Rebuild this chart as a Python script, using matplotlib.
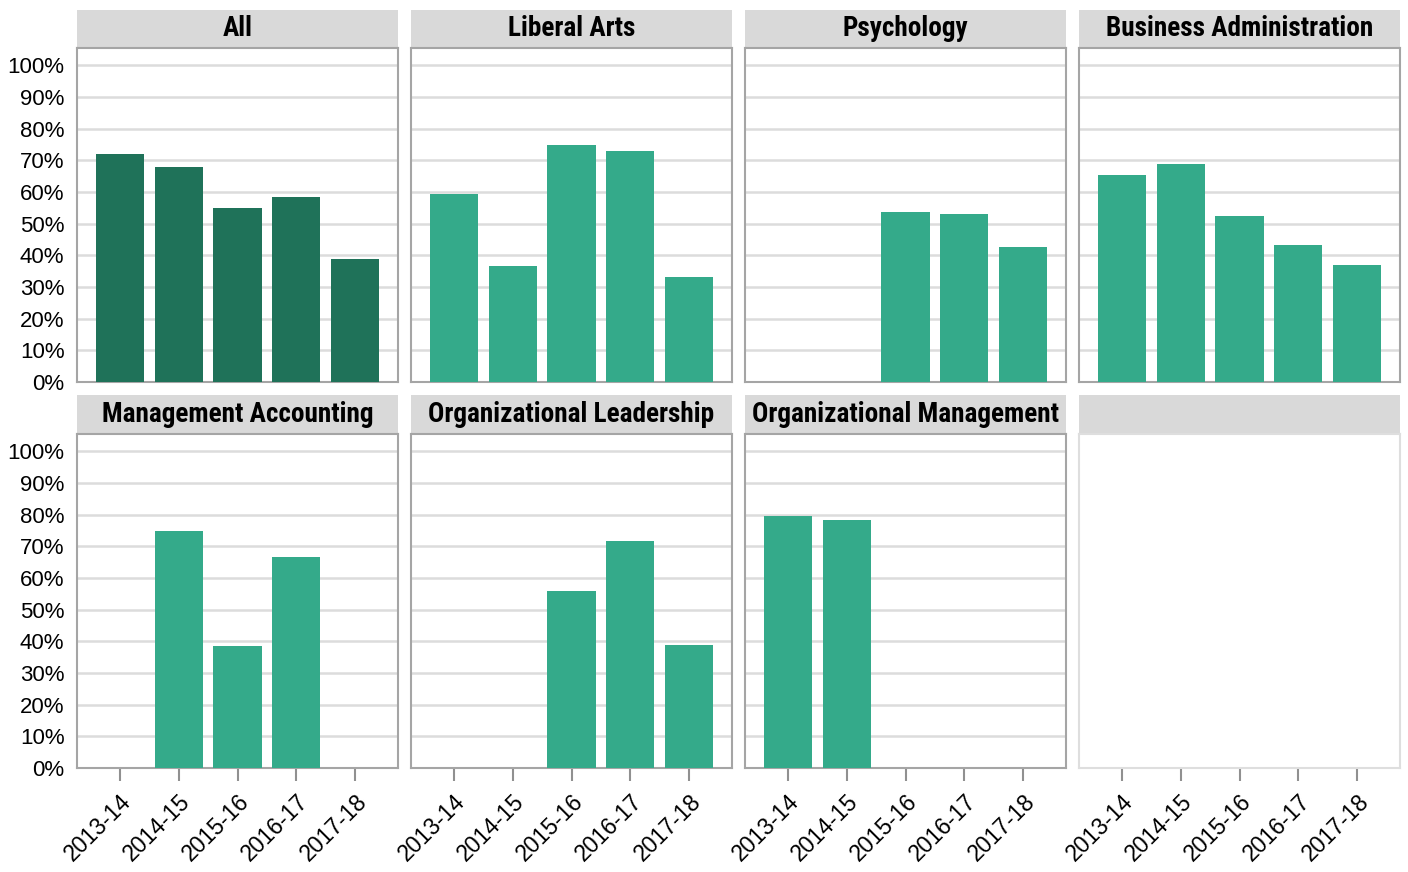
import matplotlib.pyplot as plt
from matplotlib.patches import Rectangle
from matplotlib.ticker import FuncFormatter

# data (percent of students)
years = ['2013-14', '2014-15', '2015-16', '2016-17', '2017-18']
panels = ['All', 'Liberal Arts', 'Psychology', 'Business Administration',
          'Management Accounting', 'Organizational Leadership', 'Organizational Management', '']
all_vals = [72, 68, 55, 58.5, 39]
liberal_arts = [59.5, 36.7, 75, 73, 33.2]
psychology = [None, None, 53.8, 53.2, 42.7]
business_admin = [65.5, 69, 52.5, 43.4, 37]
mgmt_accounting = [None, 75, 38.6, 66.8, None]
org_leadership = [None, None, 56, 71.8, 38.9]
org_management = [79.7, 78.2, None, None, None]
series = [all_vals, liberal_arts, psychology, business_admin,
          mgmt_accounting, org_leadership, org_management, None]

dark_green = '#1f7259'
green = '#34aa8a'

head_font = ['Roboto Condensed', 'Liberation Sans Narrow', 'Roboto', 'DejaVu Sans']
tick_font = ['Liberation Sans', 'DejaVu Sans']

W, H = 1408, 872
fig = plt.figure(figsize=(W / 100, H / 100), dpi=100)

col_x = [77, 411, 745, 1079]
pw = 321
rows = [(48, 382, 10), (434, 768, 395)]  # plot top, plot bottom, strip top

headers = []
for i, (name, vals) in enumerate(zip(panels, series)):
    r, c = divmod(i, 4)
    top, bot, strip_top = rows[r]
    ax = fig.add_axes([col_x[c] / W, 1 - bot / H, pw / W, (bot - top) / H])
    x = list(range(len(years)))
    if vals is not None:
        xs = [k for k, v in zip(x, vals) if v is not None]
        ys = [v for v in vals if v is not None]
        ax.bar(xs, ys, width=0.82, color=dark_green if i == 0 else green, zorder=3)
        ax.yaxis.grid(True, color='#dcdcdc', lw=1.8, zorder=0)
        edge = '#a5a5a5'
    else:
        edge = '#dedede'
    ax.set_xlim(-0.73, 4.73)
    ax.set_ylim(0, 105.5)
    ax.set_yticks(range(0, 101, 10))
    ax.yaxis.set_major_formatter(FuncFormatter(lambda v, p: f'{int(v)}%'))
    for s in ax.spines.values():
        s.set_color(edge)
        s.set_linewidth(1.5)
    ax.tick_params(axis='y', length=0, pad=9, labelsize=16)
    if c != 0:
        ax.tick_params(axis='y', labelleft=False)
    ax.set_xticks(x)
    if r == 1:
        ax.set_xticklabels(years, rotation=45, ha='right', rotation_mode='anchor')
        ax.tick_params(axis='x', length=9, width=1.5, color='#909090', pad=7, labelsize=16.5)
    else:
        ax.tick_params(axis='x', length=0, labelbottom=False)
    for lab in ax.get_yticklabels() + ax.get_xticklabels():
        lab.set_family(tick_font)

    # facet header strip
    sh = (top - strip_top) / (bot - top)
    ax.add_patch(Rectangle((0, 1), 1, sh, transform=ax.transAxes, facecolor='#d9d9d9',
                           edgecolor='none', clip_on=False))
    if name:
        t = ax.text(0.5, 1 + sh / 2, name, transform=ax.transAxes, ha='center', va='center',
                    fontsize=18, fontweight='bold', family=head_font)
        headers.append(t)

# size the headers so the longest title spans about 307 px as in the reference
rend = fig.canvas.get_renderer()
widest = max(t.get_window_extent(rend).width for t in headers)
size = min(21, 18 * 307 / widest)
for t in headers:
    t.set_fontsize(size)

fig.savefig('out.png', dpi=100)
